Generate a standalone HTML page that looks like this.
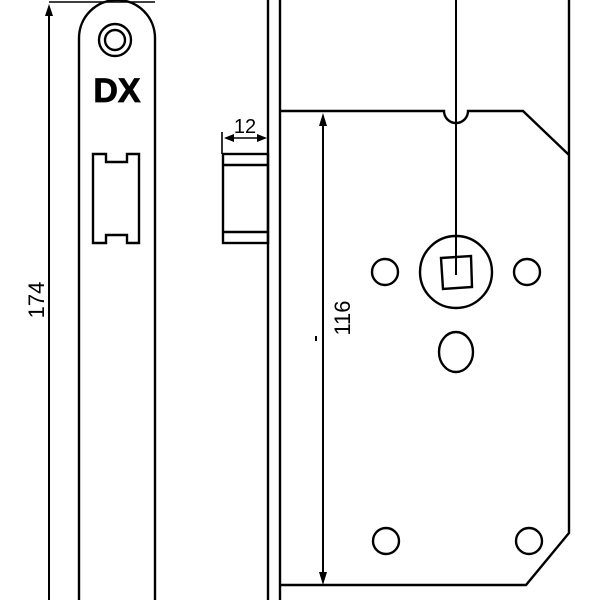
<!DOCTYPE html>
<html><head><style>html,body{margin:0;padding:0;background:#fff;}svg{display:block}</style></head>
<body>
<svg width="600" height="600" viewBox="0 0 600 600" xmlns="http://www.w3.org/2000/svg" fill="none" stroke="#000" stroke-width="2.4">
<line x1="49" y1="2" x2="155" y2="2" stroke-width="1.6"/>
<line x1="49" y1="12" x2="49" y2="600" stroke-width="2"/>
<polygon points="49,4 45,16 53,16" fill="#000" stroke="none"/>
<text x="44" y="300" transform="rotate(-90 44 300)" font-family="Liberation Sans, sans-serif" font-size="22" fill="#000" stroke="none" text-anchor="middle">174</text>
<path d="M79,600 V38 A38,38 0 0 1 155,38 V600"/>
<circle cx="115" cy="40" r="16"/>
<circle cx="115" cy="40" r="10"/>
<text x="117" y="102" font-family="Liberation Sans, sans-serif" font-weight="bold" font-size="34" fill="#000" stroke="#000" stroke-width="0.8" text-anchor="middle">DX</text>
<path d="M93,154 H106 V162 H127 V154 H139 V243 H127 V235 H106 V243 H93 Z"/>
<line x1="268" y1="0" x2="268" y2="600"/>
<line x1="280" y1="0" x2="280" y2="600"/>
<rect x="223" y="154" width="45" height="89"/>
<line x1="223" y1="165" x2="268" y2="165"/>
<line x1="223" y1="232" x2="268" y2="232"/>
<line x1="222" y1="132" x2="222" y2="154" stroke-width="1.6"/>
<line x1="226" y1="138" x2="264" y2="138" stroke-width="1.6"/>
<polygon points="224,138 234,134 234,142" fill="#000" stroke="none"/>
<polygon points="267,138 257,134 257,142" fill="#000" stroke="none"/>
<text x="245" y="133" font-family="Liberation Sans, sans-serif" font-size="20" fill="#000" stroke="none" text-anchor="middle">12</text>
<path d="M280,111 H444 A12,12 0 0 0 468,111 H523 L569,155 M569,0 V533 L526,585 H280"/>
<line x1="456" y1="0" x2="456" y2="275" stroke-width="2"/>
<line x1="323" y1="122" x2="323" y2="576" stroke-width="2"/>
<polygon points="323,113 319,126 327,126" fill="#000" stroke="none"/>
<polygon points="323,585 319,572 327,572" fill="#000" stroke="none"/>
<text x="350" y="318" transform="rotate(-90 350 318)" font-family="Liberation Sans, sans-serif" font-size="22" fill="#000" stroke="none" text-anchor="middle">116</text>
<line x1="316" y1="336" x2="316" y2="341" stroke-width="2"/>
<circle cx="456" cy="272" r="36"/>
<polygon points="441,258 471,256 472,287 443,289"/>
<circle cx="385" cy="272" r="13"/>
<circle cx="527" cy="272" r="13"/>
<ellipse cx="456" cy="352" rx="17" ry="20"/>
<circle cx="386" cy="541" r="13"/>
<circle cx="529" cy="541" r="13"/>
</svg>
</body></html>
